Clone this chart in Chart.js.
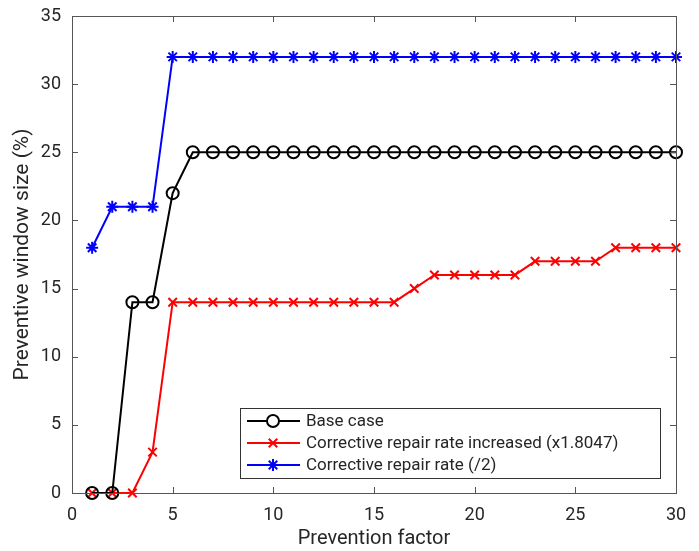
<!DOCTYPE html>
<html>
<head>
<meta charset="utf-8">
<script src="https://cdn.jsdelivr.net/npm/chart.js@4"></script>
<style>
  html, body { margin: 0; padding: 0; background: #fff; }
  #wrap { width: 699px; height: 551px; }
</style>
</head>
<body>
<div id="wrap"><canvas id="chart" width="699" height="551"></canvas></div>
<script>
// 資料
const factors = [1, 2, 3, 4, 5, 6, 7, 8, 9, 10, 11, 12, 13, 14, 15, 16, 17, 18, 19, 20, 21, 22, 23, 24, 25, 26, 27, 28, 29, 30];
const baseCase = [0, 0, 14, 14, 22, 25, 25, 25, 25, 25, 25, 25, 25, 25, 25, 25, 25, 25, 25, 25, 25, 25, 25, 25, 25, 25, 25, 25, 25, 25];
const repairIncreased = [0, 0, 0, 3, 14, 14, 14, 14, 14, 14, 14, 14, 14, 14, 14, 14, 15, 16, 16, 16, 16, 16, 17, 17, 17, 17, 18, 18, 18, 18];
const repairHalf = [18, 21, 21, 21, 32, 32, 32, 32, 32, 32, 32, 32, 32, 32, 32, 32, 32, 32, 32, 32, 32, 32, 32, 32, 32, 32, 32, 32, 32, 32];
const seriesNames = ['Base case', 'Corrective repair rate increased (x1.8047)', 'Corrective repair rate (/2)'];
const xTicks = [0, 5, 10, 15, 20, 25, 30];
const yTicks = [0, 5, 10, 15, 20, 25, 30, 35];

const FONT = 'Roboto, "DejaVu Sans", sans-serif';
const TEXT = '#262626';
const AXIS = '#555555';

const toPoints = arr => arr.map((v, i) => ({ x: factors[i], y: v }));

// 外框 + 向內刻度 + 圖例
const boxPlugin = {
  id: 'boxPlugin',
  afterDraw(chart) {
    const { ctx, chartArea: a, scales } = chart;
    const tl = 6;
    ctx.save();
    ctx.strokeStyle = AXIS;
    ctx.lineWidth = 1;
    ctx.strokeRect(a.left + 0.5, a.top + 0.5, a.right - a.left, a.bottom - a.top);
    ctx.beginPath();
    xTicks.forEach(v => {
      const px = Math.round(scales.x.getPixelForValue(v)) + 0.5;
      ctx.moveTo(px, a.bottom); ctx.lineTo(px, a.bottom - tl);
      ctx.moveTo(px, a.top); ctx.lineTo(px, a.top + tl);
    });
    yTicks.forEach(v => {
      const py = Math.round(scales.y.getPixelForValue(v)) + 0.5;
      ctx.moveTo(a.left, py); ctx.lineTo(a.left + tl, py);
      ctx.moveTo(a.right, py); ctx.lineTo(a.right - tl, py);
    });
    ctx.stroke();

    // 圖例
    const lx = 240, ly = 408, lw = 420, lh = 70;
    ctx.fillStyle = '#fff';
    ctx.fillRect(lx, ly, lw, lh);
    ctx.strokeStyle = '#333';
    ctx.strokeRect(lx + 0.5, ly + 0.5, lw, lh);
    const rows = [421, 443, 465];
    chart.data.datasets.forEach((ds, i) => {
      const y = rows[i];
      ctx.strokeStyle = ds.borderColor;
      ctx.lineWidth = 2;
      ctx.beginPath();
      ctx.moveTo(247, y); ctx.lineTo(300, y);
      ctx.stroke();
      Chart.helpers.drawPoint(ctx, {
        pointStyle: ds.pointStyle, radius: ds.pointRadius, borderWidth: 2
      }, 273, y);
      ctx.fillStyle = TEXT;
      ctx.font = '17px ' + FONT;
      ctx.textBaseline = 'middle';
      ctx.textAlign = 'left';
      ctx.fillText(ds.label, 306, y + 1);
    });
    ctx.restore();
  }
};

const common = { borderWidth: 2, pointBorderWidth: 2, backgroundColor: 'rgba(0,0,0,0)', tension: 0, clip: false };

new Chart(document.getElementById('chart').getContext('2d'), {
  type: 'line',
  data: {
    datasets: [
      { ...common, label: seriesNames[0], data: toPoints(baseCase), borderColor: '#000000',
        pointBorderColor: '#000000', pointBackgroundColor: 'rgba(0,0,0,0)', pointStyle: 'circle', pointRadius: 6 },
      { ...common, label: seriesNames[1], data: toPoints(repairIncreased), borderColor: '#ff0000',
        pointBorderColor: '#ff0000', pointStyle: 'crossRot', pointRadius: 6 },
      { ...common, label: seriesNames[2], data: toPoints(repairHalf), borderColor: '#0000ff',
        pointBorderColor: '#0000ff', pointStyle: 'star', pointRadius: 6 }
    ]
  },
  options: {
    responsive: false,
    animation: false,
    layout: { padding: { top: 16, right: 23, left: 0, bottom: 0 } },
    plugins: { legend: { display: false }, tooltip: { enabled: false } },
    scales: {
      x: {
        type: 'linear', min: 0, max: 30,
        afterBuildTicks: s => { s.ticks = xTicks.map(v => ({ value: v })); },
        afterFit: s => { s.height = 58; },
        grid: { display: false },
        border: { display: false },
        ticks: { color: TEXT, font: { family: FONT, size: 18 }, padding: 4 },
        title: { display: true, text: 'Prevention factor', color: TEXT, font: { family: FONT, size: 20 }, padding: { top: 0, bottom: 0 } }
      },
      y: {
        min: 0, max: 35,
        afterBuildTicks: s => { s.ticks = yTicks.map(v => ({ value: v })); },
        afterFit: s => { s.width = 72; },
        grid: { display: false },
        border: { display: false },
        ticks: { color: TEXT, font: { family: FONT, size: 18 }, padding: 3 },
        title: { display: true, text: 'Preventive window size (%)', color: TEXT, font: { family: FONT, size: 21 }, padding: { top: 10, bottom: 0 } }
      }
    }
  },
  plugins: [boxPlugin]
});
</script>
</body>
</html>
